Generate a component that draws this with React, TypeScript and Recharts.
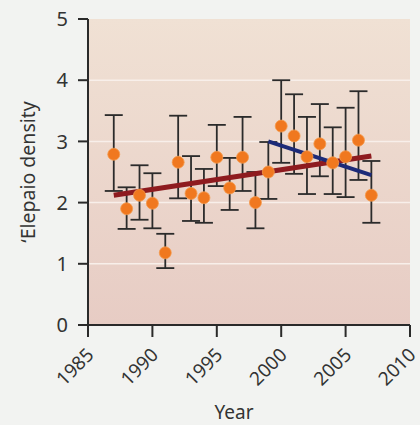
import React from "react";
import {
  ComposedChart,
  Scatter,
  ErrorBar,
  XAxis,
  YAxis,
  CartesianGrid,
} from "recharts";

// survey years and mean density with the error bar limits
const years = [1987, 1988, 1989, 1990, 1991, 1992, 1993, 1994, 1995, 1996, 1997, 1998, 1999, 2000, 2001, 2002, 2003, 2004, 2005, 2006, 2007];
const density = [2.79, 1.9, 2.12, 1.99, 1.18, 2.66, 2.15, 2.08, 2.74, 2.24, 2.74, 2.0, 2.5, 3.25, 3.09, 2.75, 2.96, 2.65, 2.75, 3.02, 2.12];
const upper = [3.43, 2.25, 2.61, 2.48, 1.49, 3.42, 2.76, 2.55, 3.27, 2.73, 3.4, 2.5, 2.99, 4.0, 3.77, 3.4, 3.61, 3.23, 3.55, 3.82, 2.68];
const lower = [2.19, 1.57, 1.72, 1.58, 0.93, 2.07, 1.7, 1.67, 2.27, 1.88, 2.19, 1.58, 2.06, 2.65, 2.47, 2.14, 2.43, 2.14, 2.09, 2.37, 1.67];

// fitted trends
const longTrendYears = [1987, 2007];
const longTrendValues = [2.12, 2.76];
const recentTrendYears = [1999, 2007];
const recentTrendValues = [3.0, 2.45];

const xTicks = [1985, 1990, 1995, 2000, 2005, 2010];
const yTicks = [0, 1, 2, 3, 4, 5];

const FONT = "'Noto Sans', sans-serif";

const points = years.map((y, i) => ({
  year: y,
  density: density[i],
  err: [density[i] - lower[i], upper[i] - density[i]],
}));
const longTrend = longTrendYears.map((y, i) => ({ year: y, density: longTrendValues[i] }));
const recentTrend = recentTrendYears.map((y, i) => ({ year: y, density: recentTrendValues[i] }));

const Dot = (props: any) => (
  <circle cx={props.cx} cy={props.cy} r={6} fill="#f0781f" stroke="#f59a4c" strokeWidth={0.8} />
);

const NoDot = () => null;

const YearTick = ({ x, y, payload }: any) => (
  <text
    x={x + 7}
    y={y + 17}
    transform={`rotate(-45, ${x + 7}, ${y + 17})`}
    textAnchor="end"
    fontSize={19}
    fontFamily={FONT}
    fill="#333"
  >
    {payload.value}
  </text>
);

export default function App() {
  return (
    <div style={{ position: "absolute", left: 0, top: 0, width: 420, height: 425, background: "#f2f3f1" }}>
      <ComposedChart width={420} height={425} margin={{ top: 19, right: 10, bottom: 0, left: 0 }}>
        <defs>
          <linearGradient id="plotBg" x1="0" y1="0" x2="0" y2="1">
            <stop offset="0%" stopColor="#f0e1d4" />
            <stop offset="100%" stopColor="#e7ccc4" />
          </linearGradient>
        </defs>
        <CartesianGrid
          vertical={false}
          horizontalValues={[1, 2, 3, 4]}
          stroke="#f8efea"
          strokeWidth={1.5}
          fill="url(#plotBg)"
          fillOpacity={1}
        />
        <XAxis
          type="number"
          dataKey="year"
          domain={[1985, 2010]}
          ticks={xTicks}
          height={100}
          axisLine={{ stroke: "#2a2a2a", strokeWidth: 2 }}
          tickLine={{ stroke: "#2a2a2a", strokeWidth: 2 }}
          tickSize={12}
          tick={<YearTick />}
          interval={0}
          label={{ value: "Year", position: "insideBottom", offset: 6, dx: -15, fontSize: 19, fontFamily: FONT, fill: "#333" }}
        />
        <YAxis
          type="number"
          dataKey="density"
          domain={[0, 5]}
          ticks={yTicks}
          width={88}
          axisLine={{ stroke: "#2a2a2a", strokeWidth: 2 }}
          tickLine={{ stroke: "#2a2a2a", strokeWidth: 2 }}
          tickSize={10}
          tickMargin={10}
          tick={{ fontSize: 20, fontFamily: FONT, fill: "#333" }}
          label={{ value: "ʻElepaio density", angle: -90, position: "insideLeft", offset: 28, style: { textAnchor: "middle" }, fontSize: 19.5, fontFamily: FONT, fill: "#333" }}
        />
        <Scatter
          data={longTrend}
          line={{ stroke: "#8e1b1f", strokeWidth: 5 }}
          shape={<NoDot />}
          isAnimationActive={false}
        />
        <Scatter
          data={recentTrend}
          line={{ stroke: "#1c2a78", strokeWidth: 4 }}
          shape={<NoDot />}
          isAnimationActive={false}
        />
        <Scatter data={points} shape={<Dot />} isAnimationActive={false}>
          <ErrorBar dataKey="err" direction="y" width={9} stroke="#2b2b2b" strokeWidth={1.8} isAnimationActive={false} />
        </Scatter>
      </ComposedChart>
    </div>
  );
}
